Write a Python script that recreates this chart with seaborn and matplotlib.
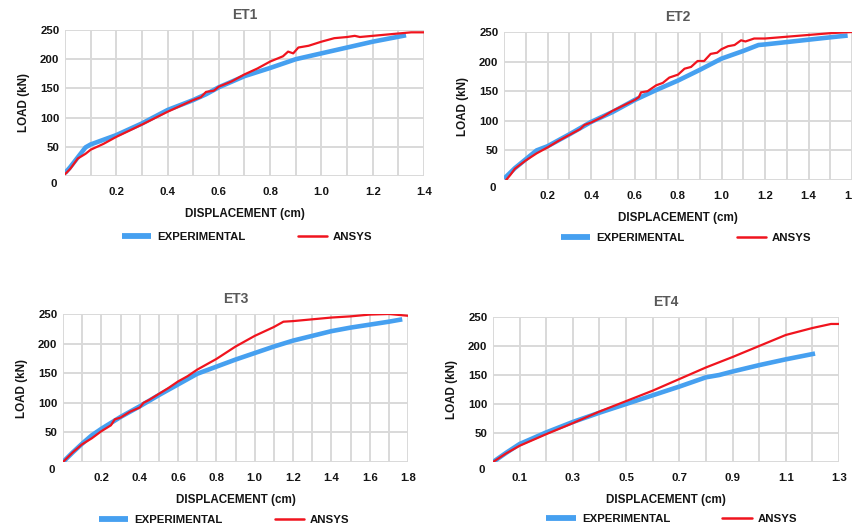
import numpy as np
import pandas as pd
import matplotlib
matplotlib.use("Agg")
import matplotlib.pyplot as plt
import matplotlib.transforms as mtransforms
import seaborn as sns

# ---------------- data ----------------
titles = ["ET1", "ET2", "ET3", "ET4"]

et1_exp_x = [0.0, 0.02, 0.05, 0.08, 0.1, 0.2, 0.3, 0.4, 0.5, 0.55, 0.6, 0.7, 0.8, 0.9, 1.0, 1.1, 1.2, 1.33]
et1_exp_y = [5, 15, 32, 49, 54, 70, 90, 113, 130, 140, 152, 171, 185, 200, 210, 220, 230, 241]
et1_ans_x = [0.0, 0.02, 0.05, 0.08, 0.1, 0.15, 0.2, 0.3, 0.4, 0.5, 0.53, 0.55, 0.58, 0.6, 0.65, 0.7, 0.75,
             0.8, 0.85, 0.87, 0.89, 0.91, 0.95, 1.0, 1.05, 1.1, 1.13, 1.15, 1.2, 1.3, 1.35, 1.4]
et1_ans_y = [3, 12, 30, 38, 45, 55, 67, 88, 110, 130, 135, 144, 146, 153, 162, 174, 184,
             196, 205, 213, 210, 220, 223, 230, 236, 238, 240, 238, 240, 244, 246, 246]

et2_exp_x = [0.0, 0.05, 0.1, 0.15, 0.2, 0.3, 0.4, 0.5, 0.6, 0.7, 0.8, 0.9, 1.0, 1.1, 1.17, 1.2, 1.3, 1.4, 1.5, 1.58]
et2_exp_y = [2, 20, 35, 50, 57, 77, 98, 115, 135, 152, 168, 186, 205, 218, 228, 229, 233, 237, 241, 244]
et2_ans_x = [0.01, 0.03, 0.05, 0.1, 0.15, 0.2, 0.25, 0.3, 0.33, 0.35, 0.37, 0.4, 0.45, 0.5, 0.55, 0.6, 0.62,
             0.63, 0.66, 0.7, 0.73, 0.76, 0.8, 0.83, 0.86, 0.89, 0.92, 0.95, 0.98, 1.0, 1.03, 1.06, 1.09,
             1.11, 1.15, 1.2, 1.3, 1.4, 1.5, 1.6]
et2_ans_y = [0, 9, 19, 33, 45, 55, 66, 76, 82, 86, 93, 97, 106, 117, 126, 135, 140,
             148, 150, 160, 164, 173, 178, 188, 191, 201, 201, 213, 215, 221, 226, 228, 236,
             234, 239, 239, 242, 245, 248, 250]

et3_exp_x = [0.0, 0.05, 0.1, 0.15, 0.2, 0.3, 0.4, 0.5, 0.6, 0.7, 0.8, 0.9, 1.0, 1.1, 1.2, 1.3, 1.4, 1.5, 1.6, 1.7, 1.77]
et3_exp_y = [0, 16, 31, 45, 56, 76, 94, 113, 131, 149, 161, 173, 184, 195, 205, 213, 221, 227, 232, 237, 241]
et3_ans_x = [0.0, 0.05, 0.1, 0.15, 0.2, 0.25, 0.27, 0.3, 0.35, 0.4, 0.42, 0.45, 0.5, 0.55, 0.6, 0.65, 0.7,
             0.8, 0.9, 1.0, 1.1, 1.15, 1.2, 1.3, 1.4, 1.5, 1.6, 1.7, 1.8]
et3_ans_y = [0, 16, 30, 40, 52, 62, 72, 75, 85, 92, 100, 105, 115, 125, 136, 145, 156,
             174, 195, 213, 228, 237, 238, 241, 244, 246, 249, 250, 247]

et4_exp_x = [0.0, 0.05, 0.1, 0.2, 0.3, 0.4, 0.5, 0.6, 0.7, 0.8, 0.85, 0.9, 1.0, 1.1, 1.21]
et4_exp_y = [0, 16, 31, 51, 69, 85, 100, 115, 130, 146, 150, 156, 167, 177, 187]
et4_ans_x = [0.0, 0.05, 0.1, 0.2, 0.3, 0.4, 0.5, 0.6, 0.7, 0.8, 0.9, 1.0, 1.1, 1.2, 1.27, 1.3]
et4_ans_y = [0, 15, 28, 48, 67, 87, 105, 123, 143, 163, 181, 200, 219, 231, 238, 238]

xmax = [1.4, 1.6, 1.8, 1.3]
xlabels_start = [0.2, 0.2, 0.2, 0.1]
yticks = [0, 50, 100, 150, 200, 250]
series_names = ["EXPERIMENTAL", "ANSYS"]

panels = [
    (et1_exp_x, et1_exp_y, et1_ans_x, et1_ans_y),
    (et2_exp_x, et2_exp_y, et2_ans_x, et2_ans_y),
    (et3_exp_x, et3_exp_y, et3_ans_x, et3_ans_y),
    (et4_exp_x, et4_exp_y, et4_ans_x, et4_ans_y),
]

# ---------------- style ----------------
sns.set_theme(style="white")
plt.rcParams["font.family"] = ["Liberation Sans", "DejaVu Sans"]
plt.rcParams["font.weight"] = "bold"

BLUE = "#46A0F0"
RED = "#F0141E"
GRID = "#D9D9D9"
TXT = "#141414"
FS = 8.2

W, H = 852, 531
fig = plt.figure(figsize=(W / 100, H / 100), dpi=100)

# axes boxes in pixels: left, right, top, bottom
boxes = [(65, 424, 30, 176), (504, 852, 32, 180), (63, 408, 314, 462), (493, 839, 317, 462)]
legend_pos = [(0.507, -0.42), (0.523, -0.39), (0.467, -0.39), (0.517, -0.39)]

for i, (box, p) in enumerate(zip(boxes, panels)):
    l, r, t, b = box
    ax = fig.add_axes([l / W, 1 - b / H, (r - l) / W, (b - t) / H])
    ex, ey, ax_, ay = p
    df_e = pd.DataFrame({"x": ex, "y": ey, "s": series_names[0]})
    df_a = pd.DataFrame({"x": ax_, "y": ay, "s": series_names[1]})
    sns.lineplot(data=df_e, x="x", y="y", ax=ax, color=BLUE, lw=3.3, sort=False,
                 estimator=None, label=series_names[0], solid_capstyle="butt", zorder=3)
    sns.lineplot(data=df_a, x="x", y="y", ax=ax, color=RED, lw=1.6, sort=False,
                 estimator=None, label=series_names[1], zorder=4)

    xm = xmax[i]
    ax.set_xlim(0, xm)
    ax.set_ylim(0, 250)
    n = int(round(xm / 0.1))
    xt = [round(k * 0.1, 1) for k in range(n + 1)]
    ax.set_xticks(xt)
    st = xlabels_start[i]
    labs = []
    for v in xt:
        k = int(round((v - st) / 0.1))
        if v >= st - 1e-9 and k % 2 == 0:
            labs.append(f"{v:.1f}")
        else:
            labs.append("")
    ax.set_xticklabels(labs)
    ax.set_yticks(yticks)
    ax.set_yticklabels([str(v) for v in yticks])

    for s in ax.spines.values():
        s.set_visible(False)
    ax.grid(True, color=GRID, lw=1.4, zorder=0)
    ax.set_axisbelow(True)
    ax.tick_params(axis="both", length=0, labelsize=FS, colors=TXT)
    ax.tick_params(axis="x", pad=8)
    ax.tick_params(axis="y", pad=4)
    for lab in ax.get_xticklabels() + ax.get_yticklabels():
        lab.set_fontweight("bold")
    # shift the "0" label down, as in the reference
    zl = ax.get_yticklabels()[0]
    zl.set_transform(zl.get_transform() + mtransforms.ScaledTranslation(-0.02, -0.07, fig.dpi_scale_trans))

    ax.set_xlabel("DISPLACEMENT (cm)", fontsize=8.4, fontweight="bold", color=TXT, labelpad=8)
    ax.set_ylabel("LOAD (kN)", fontsize=8.4, fontweight="bold", color=TXT, labelpad=7)
    ax.set_title(titles[i], fontsize=10, fontweight="bold", color="#595959", pad=8)

    leg = ax.legend(loc="center", bbox_to_anchor=legend_pos[i], ncol=2, frameon=False,
                    handlelength=2.6, handletextpad=0.5, columnspacing=4.6,
                    prop={"weight": "bold", "size": FS})
    for txt in leg.get_texts():
        txt.set_color(TXT)
    hl = leg.legend_handles if hasattr(leg, "legend_handles") else leg.legendHandles
    hl[0].set_linewidth(4.2)
    hl[1].set_linewidth(1.8)

fig.savefig("out.png", dpi=100)
